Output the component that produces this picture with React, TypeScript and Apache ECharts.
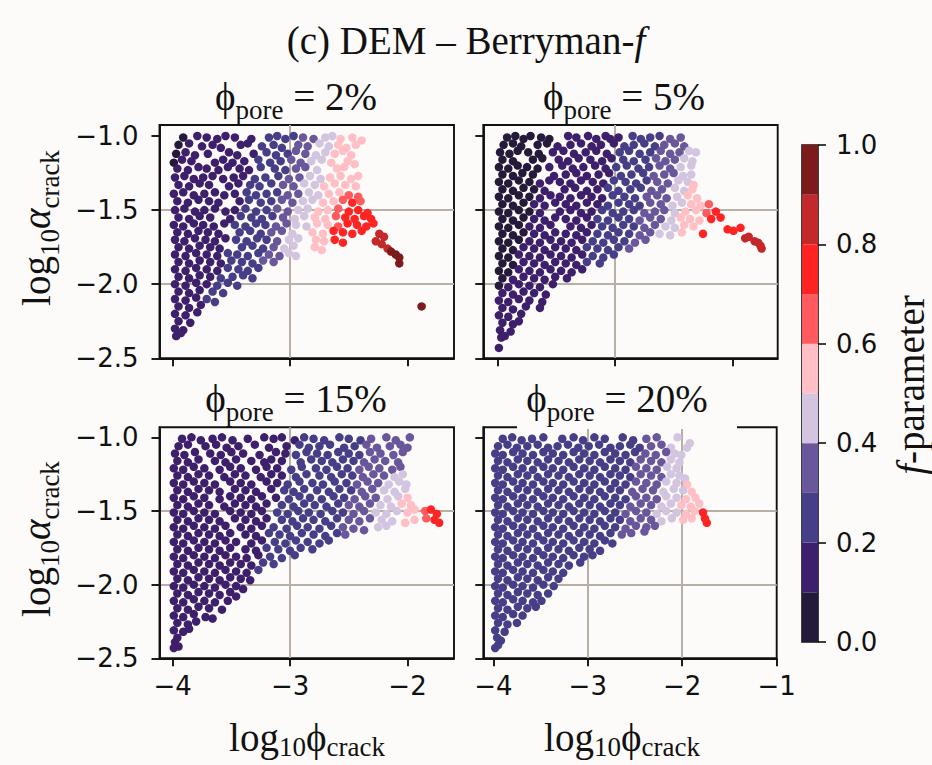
import React, { useEffect, useRef } from "react";
import * as echarts from "echarts";

// f-parameter colour bins (colorbar)
const fBins = [0, 0.1, 0.2, 0.3, 0.4, 0.5, 0.6, 0.7, 0.8, 0.9, 1.0];
const fColors = ["#261a3b", "#3d1f6c", "#463f88", "#6a569b", "#d3c4e0", "#ffbfc4", "#ff5a5d", "#ff2424", "#c3292a", "#7c1a1c"];
const cbarTicks = [0, 0.2, 0.4, 0.6, 0.8, 1.0];
const xTicksLeft = [-4, -3, -2];
const xTicksRight = [-4, -3, -2, -1];
const yTicks = [-2.5, -2.0, -1.5, -1.0];
const poreLabels = ["2%", "5%", "15%", "20%"];

// [log10 phi_crack, log10 alpha_crack, f]
const pore2 = [
[-3.91,-1.01,.05],[-3.79,-1.00,.15],[-3.71,-1.01,.15],[-3.62,-1.02,.15],[-3.55,-1.00,.15],[-3.47,-1.01,.15],[-3.33,-1.02,.15],[-3.18,-1.01,.25],[-3.11,-1.00,.25],[-3.04,-1.02,.25],[-2.97,-1.00,.25],[-2.89,-1.01,.35],[-2.80,-1.02,.35],[-2.70,-1.01,.45],[-2.64,-1.00,.45],[-2.57,-1.02,.55],[-2.47,-1.01,.55],[-2.39,-1.03,.55],
[-3.95,-1.06,.05],[-3.86,-1.05,.15],[-3.75,-1.07,.15],[-3.66,-1.06,.15],[-3.59,-1.08,.15],[-3.42,-1.06,.15],[-3.36,-1.05,.15],[-3.24,-1.07,.25],[-3.14,-1.06,.25],[-3.07,-1.08,.25],[-2.93,-1.06,.35],[-2.85,-1.07,.35],[-2.75,-1.05,.45],[-2.67,-1.07,.45],[-2.59,-1.06,.55],[-2.52,-1.08,.55],[-2.44,-1.06,.55],
[-3.97,-1.12,.05],[-3.89,-1.11,.15],[-3.81,-1.13,.15],[-3.70,-1.12,.15],[-3.52,-1.11,.15],[-3.45,-1.13,.15],[-3.31,-1.12,.15],[-3.20,-1.11,.25],[-3.12,-1.13,.25],[-3.02,-1.12,.25],[-2.95,-1.10,.35],[-2.87,-1.12,.35],[-2.78,-1.13,.45],[-2.70,-1.11,.45],[-2.62,-1.12,.55],[-2.55,-1.10,.55],[-2.48,-1.13,.55],
[-3.99,-1.18,.05],[-3.92,-1.16,.15],[-3.84,-1.17,.15],[-3.64,-1.18,.15],[-3.57,-1.16,.15],[-3.49,-1.18,.15],[-3.39,-1.17,.15],[-3.27,-1.16,.25],[-3.17,-1.18,.25],[-3.08,-1.17,.25],[-2.99,-1.16,.35],[-2.91,-1.18,.35],[-2.82,-1.17,.45],[-2.73,-1.16,.45],[-2.65,-1.18,.55],[-2.51,-1.17,.55],[-2.45,-1.19,.55],
[-3.96,-1.22,.15],[-3.87,-1.23,.15],[-3.78,-1.21,.15],[-3.71,-1.22,.15],[-3.61,-1.23,.15],[-3.53,-1.21,.15],[-3.43,-1.22,.15],[-3.35,-1.23,.15],[-3.25,-1.21,.25],[-3.13,-1.22,.25],[-3.04,-1.23,.25],[-2.95,-1.22,.35],[-2.87,-1.21,.35],[-2.77,-1.23,.45],[-2.60,-1.22,.55],[-2.54,-1.21,.55],
[-3.98,-1.28,.15],[-3.90,-1.27,.15],[-3.82,-1.29,.15],[-3.74,-1.28,.15],[-3.66,-1.27,.15],[-3.57,-1.29,.15],[-3.48,-1.28,.15],[-3.40,-1.27,.15],[-3.30,-1.29,.25],[-3.21,-1.28,.25],[-3.10,-1.27,.25],[-3.01,-1.29,.35],[-2.92,-1.28,.35],[-2.83,-1.27,.45],[-2.74,-1.29,.45],[-2.66,-1.28,.55],[-2.57,-1.27,.55],[-2.48,-1.29,.55],[-2.42,-1.27,.55],
[-3.95,-1.33,.15],[-3.86,-1.34,.15],[-3.77,-1.32,.15],[-3.69,-1.33,.15],[-3.52,-1.34,.15],[-3.44,-1.32,.15],[-3.34,-1.33,.25],[-3.26,-1.34,.25],[-3.16,-1.32,.25],[-3.06,-1.33,.35],[-2.97,-1.34,.35],[-2.88,-1.32,.45],[-2.79,-1.33,.45],[-2.71,-1.34,.55],[-2.62,-1.32,.55],[-2.53,-1.33,.55],[-2.44,-1.34,.55],
[-3.99,-1.39,.15],[-3.91,-1.38,.15],[-3.82,-1.40,.15],[-3.73,-1.39,.15],[-3.64,-1.38,.15],[-3.56,-1.40,.15],[-3.47,-1.39,.15],[-3.37,-1.38,.25],[-3.29,-1.40,.25],[-3.20,-1.39,.25],[-3.11,-1.38,.25],[-3.02,-1.40,.35],[-2.93,-1.39,.35],[-2.84,-1.38,.45],[-2.76,-1.40,.45],[-2.67,-1.39,.55],[-2.58,-1.38,.55],[-2.50,-1.40,.65],[-2.42,-1.41,.65],
[-3.96,-1.44,.15],[-3.87,-1.45,.15],[-3.78,-1.43,.15],[-3.69,-1.44,.15],[-3.61,-1.45,.15],[-3.43,-1.44,.15],[-3.35,-1.43,.25],[-3.25,-1.45,.25],[-3.16,-1.44,.25],[-3.07,-1.43,.35],[-2.98,-1.45,.35],[-2.89,-1.44,.45],[-2.81,-1.43,.45],[-2.72,-1.45,.55],[-2.63,-1.44,.55],[-2.55,-1.43,.65],[-2.47,-1.45,.75],[-2.40,-1.44,.65],
[-3.98,-1.50,.15],[-3.90,-1.49,.15],[-3.81,-1.51,.15],[-3.73,-1.50,.15],[-3.64,-1.49,.15],[-3.55,-1.51,.15],[-3.47,-1.50,.15],[-3.38,-1.49,.25],[-3.29,-1.51,.25],[-3.20,-1.50,.25],[-3.11,-1.49,.35],[-3.02,-1.51,.35],[-2.93,-1.50,.45],[-2.85,-1.49,.45],[-2.76,-1.51,.55],[-2.68,-1.50,.55],[-2.59,-1.49,.65],[-2.50,-1.51,.75],[-2.42,-1.50,.75],[-2.34,-1.52,.75],
[-3.95,-1.55,.15],[-3.86,-1.56,.15],[-3.77,-1.54,.15],[-3.68,-1.55,.15],[-3.51,-1.56,.15],[-3.42,-1.54,.25],[-3.33,-1.55,.25],[-3.24,-1.56,.25],[-3.15,-1.54,.25],[-3.06,-1.55,.35],[-2.96,-1.56,.45],[-2.88,-1.54,.45],[-2.79,-1.55,.55],[-2.70,-1.56,.55],[-2.61,-1.54,.65],[-2.53,-1.55,.75],[-2.45,-1.56,.75],[-2.37,-1.54,.75],[-2.31,-1.56,.75],
[-3.99,-1.60,.15],[-3.91,-1.61,.15],[-3.82,-1.59,.15],[-3.74,-1.60,.15],[-3.65,-1.61,.15],[-3.56,-1.59,.15],[-3.47,-1.60,.25],[-3.38,-1.61,.25],[-3.29,-1.59,.25],[-3.21,-1.60,.25],[-3.12,-1.61,.35],[-3.03,-1.59,.35],[-2.95,-1.60,.45],[-2.86,-1.61,.45],[-2.77,-1.59,.55],[-2.68,-1.60,.55],[-2.59,-1.61,.65],[-2.51,-1.59,.75],[-2.43,-1.60,.75],[-2.35,-1.61,.75],[-2.29,-1.59,.75],
[-3.96,-1.65,.15],[-3.87,-1.66,.15],[-3.78,-1.64,.15],[-3.70,-1.65,.15],[-3.61,-1.66,.15],[-3.43,-1.65,.25],[-3.34,-1.64,.25],[-3.25,-1.66,.25],[-3.16,-1.65,.35],[-3.07,-1.64,.35],[-2.98,-1.66,.45],[-2.81,-1.65,.55],[-2.72,-1.66,.55],[-2.63,-1.64,.75],[-2.55,-1.65,.75],[-2.47,-1.66,.75],[-2.39,-1.64,.75],[-2.24,-1.66,.85],[-2.20,-1.68,.85],
[-3.98,-1.70,.15],[-3.90,-1.71,.15],[-3.81,-1.69,.15],[-3.72,-1.70,.15],[-3.64,-1.71,.15],[-3.55,-1.69,.15],[-3.46,-1.70,.25],[-3.37,-1.71,.25],[-3.28,-1.69,.25],[-3.20,-1.70,.25],[-3.11,-1.71,.35],[-3.01,-1.70,.45],[-2.93,-1.69,.45],[-2.78,-1.70,.55],[-2.71,-1.71,.55],[-2.62,-1.70,.75],[-2.55,-1.72,.75],[-2.27,-1.71,.85],[-2.22,-1.73,.85],
[-3.95,-1.75,.15],[-3.86,-1.76,.15],[-3.77,-1.74,.15],[-3.68,-1.75,.15],[-3.60,-1.76,.15],[-3.41,-1.75,.25],[-3.32,-1.74,.25],[-3.23,-1.76,.25],[-3.14,-1.75,.35],[-3.05,-1.76,.45],[-2.97,-1.74,.45],[-2.79,-1.75,.55],[-2.73,-1.77,.55],[-2.17,-1.76,.85],[-2.14,-1.78,.95],
[-3.98,-1.80,.15],[-3.89,-1.81,.15],[-3.80,-1.79,.15],[-3.71,-1.80,.15],[-3.62,-1.81,.15],[-3.53,-1.79,.25],[-3.45,-1.80,.25],[-3.36,-1.81,.25],[-3.27,-1.79,.25],[-3.18,-1.80,.35],[-3.09,-1.81,.35],[-3.01,-1.79,.45],[-2.95,-1.81,.45],[-2.10,-1.80,.95],[-2.07,-1.82,.95],
[-3.95,-1.85,.15],[-3.86,-1.86,.15],[-3.77,-1.84,.15],[-3.68,-1.85,.15],[-3.59,-1.86,.15],[-3.50,-1.84,.25],[-3.41,-1.85,.25],[-3.32,-1.86,.25],[-3.23,-1.84,.35],[-3.14,-1.85,.35],[-2.07,-1.86,.95],
[-3.98,-1.90,.15],[-3.89,-1.91,.15],[-3.80,-1.89,.15],[-3.71,-1.90,.15],[-3.62,-1.91,.15],[-3.53,-1.89,.25],[-3.44,-1.90,.25],[-3.36,-1.91,.25],[-3.27,-1.89,.25],
[-3.95,-1.95,.15],[-3.86,-1.96,.15],[-3.77,-1.94,.15],[-3.68,-1.95,.15],[-3.59,-1.96,.25],[-3.49,-1.95,.25],[-3.40,-1.94,.25],[-3.32,-1.96,.25],
[-3.98,-2.00,.15],[-3.89,-2.01,.15],[-3.80,-1.99,.15],[-3.71,-2.00,.15],[-3.62,-2.01,.25],[-3.53,-1.99,.25],[-3.45,-2.01,.25],
[-3.95,-2.05,.15],[-3.86,-2.06,.15],[-3.77,-2.04,.15],[-3.66,-2.05,.25],[-3.57,-2.06,.25],
[-3.98,-2.10,.15],[-3.89,-2.11,.15],[-3.80,-2.09,.15],[-3.71,-2.10,.25],[-3.64,-2.12,.25],
[-3.95,-2.15,.15],[-3.86,-2.16,.15],[-3.76,-2.14,.15],[-1.88,-2.15,.95],
[-3.98,-2.20,.15],[-3.89,-2.21,.15],[-3.79,-2.19,.15],
[-3.95,-2.25,.15],[-3.85,-2.26,.15],
[-3.98,-2.30,.15],[-3.91,-2.31,.15],
[-3.97,-2.35,.15],[-3.93,-2.33,.15],
];

const pore5 = [
[-3.92,-1.01,.05],[-3.85,-1.00,.05],[-3.78,-1.02,.05],[-3.72,-1.00,.05],[-3.63,-1.01,.05],[-3.56,-1.02,.05],[-3.40,-1.00,.15],[-3.33,-1.01,.15],[-3.23,-1.00,.15],[-3.16,-1.02,.15],[-3.08,-1.00,.15],[-3.04,-1.02,.15],[-2.97,-1.01,.15],[-2.85,-1.00,.25],[-2.78,-1.02,.25],[-2.70,-1.01,.25],[-2.62,-1.00,.25],[-2.53,-1.02,.35],[-2.44,-1.01,.35],
[-3.95,-1.06,.05],[-3.87,-1.05,.05],[-3.80,-1.07,.05],[-3.66,-1.06,.05],[-3.58,-1.05,.05],[-3.49,-1.07,.15],[-3.38,-1.06,.15],[-3.29,-1.05,.15],[-3.20,-1.07,.15],[-3.12,-1.06,.15],[-3.01,-1.05,.15],[-2.92,-1.07,.25],[-2.84,-1.06,.25],[-2.75,-1.05,.25],[-2.66,-1.07,.25],[-2.58,-1.06,.35],[-2.49,-1.05,.35],[-2.41,-1.07,.35],
[-3.98,-1.11,.05],[-3.90,-1.12,.05],[-3.83,-1.10,.05],[-3.74,-1.11,.05],[-3.65,-1.12,.05],[-3.53,-1.11,.15],[-3.44,-1.10,.15],[-3.35,-1.12,.15],[-3.25,-1.11,.15],[-3.16,-1.10,.15],[-3.07,-1.12,.15],[-2.96,-1.11,.25],[-2.88,-1.10,.25],[-2.79,-1.12,.25],[-2.70,-1.11,.25],[-2.61,-1.10,.35],[-2.53,-1.12,.35],[-2.45,-1.11,.35],[-2.37,-1.10,.45],[-2.31,-1.11,.45],
[-3.96,-1.16,.05],[-3.87,-1.17,.05],[-3.70,-1.16,.05],[-3.62,-1.15,.05],[-3.48,-1.16,.15],[-3.40,-1.17,.15],[-3.31,-1.15,.15],[-3.21,-1.16,.15],[-3.11,-1.17,.15],[-3.03,-1.15,.15],[-2.93,-1.16,.25],[-2.84,-1.17,.25],[-2.74,-1.16,.25],[-2.65,-1.15,.35],[-2.57,-1.17,.35],[-2.49,-1.16,.35],[-2.41,-1.15,.45],[-2.34,-1.17,.45],
[-3.99,-1.21,.05],[-3.91,-1.22,.05],[-3.83,-1.20,.05],[-3.75,-1.21,.05],[-3.66,-1.22,.05],[-3.56,-1.21,.15],[-3.45,-1.20,.15],[-3.36,-1.22,.15],[-3.27,-1.21,.15],[-3.17,-1.20,.15],[-3.08,-1.22,.15],[-2.99,-1.21,.25],[-2.90,-1.20,.25],[-2.80,-1.22,.25],[-2.71,-1.21,.25],[-2.62,-1.20,.35],[-2.53,-1.22,.35],[-2.44,-1.21,.45],[-2.35,-1.20,.45],
[-3.96,-1.26,.05],[-3.87,-1.27,.05],[-3.79,-1.25,.05],[-3.70,-1.26,.05],[-3.52,-1.27,.15],[-3.42,-1.26,.15],[-3.33,-1.25,.15],[-3.24,-1.27,.15],[-3.14,-1.26,.15],[-3.05,-1.25,.15],[-2.95,-1.27,.25],[-2.86,-1.26,.25],[-2.76,-1.25,.25],[-2.67,-1.27,.35],[-2.58,-1.26,.35],[-2.50,-1.25,.35],[-2.42,-1.27,.45],[-2.35,-1.26,.45],
[-3.99,-1.31,.05],[-3.91,-1.32,.05],[-3.82,-1.30,.05],[-3.73,-1.31,.05],[-3.64,-1.32,.15],[-3.56,-1.30,.15],[-3.47,-1.31,.15],[-3.38,-1.32,.15],[-3.29,-1.30,.15],[-3.19,-1.31,.15],[-3.10,-1.32,.15],[-3.01,-1.30,.25],[-2.91,-1.31,.25],[-2.82,-1.32,.25],[-2.73,-1.30,.25],[-2.64,-1.31,.35],[-2.55,-1.32,.35],[-2.46,-1.30,.45],[-2.38,-1.31,.45],[-2.33,-1.33,.55],
[-3.96,-1.36,.05],[-3.87,-1.37,.05],[-3.78,-1.35,.05],[-3.69,-1.36,.05],[-3.60,-1.37,.15],[-3.43,-1.36,.15],[-3.34,-1.35,.15],[-3.24,-1.37,.15],[-3.15,-1.36,.15],[-3.06,-1.35,.25],[-2.97,-1.37,.25],[-2.87,-1.36,.25],[-2.78,-1.35,.25],[-2.69,-1.37,.35],[-2.60,-1.36,.35],[-2.49,-1.35,.45],[-2.41,-1.37,.45],[-2.34,-1.36,.55],
[-3.99,-1.41,.05],[-3.91,-1.42,.05],[-3.82,-1.40,.05],[-3.73,-1.41,.05],[-3.64,-1.42,.15],[-3.55,-1.40,.15],[-3.47,-1.41,.15],[-3.38,-1.42,.15],[-3.29,-1.40,.15],[-3.20,-1.41,.15],[-3.11,-1.42,.15],[-3.02,-1.40,.25],[-2.92,-1.41,.25],[-2.83,-1.42,.25],[-2.73,-1.41,.35],[-2.64,-1.40,.35],[-2.56,-1.42,.35],[-2.47,-1.41,.45],[-2.38,-1.40,.55],[-2.30,-1.42,.55],
[-3.96,-1.46,.05],[-3.87,-1.47,.05],[-3.78,-1.45,.05],[-3.69,-1.46,.15],[-3.60,-1.47,.15],[-3.51,-1.45,.15],[-3.42,-1.46,.15],[-3.33,-1.47,.15],[-3.24,-1.45,.15],[-3.15,-1.46,.15],[-3.06,-1.47,.25],[-2.97,-1.45,.25],[-2.88,-1.46,.25],[-2.79,-1.47,.25],[-2.70,-1.45,.35],[-2.61,-1.46,.35],[-2.51,-1.47,.45],[-2.43,-1.45,.45],[-2.35,-1.46,.55],[-2.27,-1.47,.55],[-2.20,-1.46,.65],
[-3.99,-1.51,.05],[-3.91,-1.52,.05],[-3.82,-1.50,.05],[-3.73,-1.51,.05],[-3.64,-1.52,.15],[-3.47,-1.51,.15],[-3.38,-1.50,.15],[-3.29,-1.52,.15],[-3.20,-1.51,.15],[-3.11,-1.50,.25],[-3.02,-1.52,.25],[-2.93,-1.51,.25],[-2.84,-1.50,.25],[-2.75,-1.52,.35],[-2.66,-1.51,.35],[-2.58,-1.50,.35],[-2.49,-1.52,.45],[-2.40,-1.51,.55],[-2.31,-1.50,.55],[-2.22,-1.52,.65],[-2.14,-1.51,.75],
[-3.96,-1.56,.05],[-3.87,-1.57,.05],[-3.78,-1.55,.05],[-3.69,-1.56,.15],[-3.60,-1.57,.15],[-3.51,-1.55,.15],[-3.42,-1.56,.15],[-3.33,-1.57,.15],[-3.24,-1.55,.15],[-3.15,-1.56,.25],[-3.06,-1.57,.25],[-2.97,-1.55,.25],[-2.88,-1.56,.25],[-2.79,-1.57,.35],[-2.70,-1.55,.35],[-2.61,-1.56,.35],[-2.52,-1.57,.45],[-2.44,-1.55,.55],[-2.36,-1.56,.55],[-2.28,-1.57,.55],[-2.18,-1.56,.75],[-2.10,-1.55,.75],
[-3.99,-1.61,.05],[-3.91,-1.62,.05],[-3.82,-1.60,.05],[-3.73,-1.61,.15],[-3.64,-1.62,.15],[-3.55,-1.60,.15],[-3.38,-1.61,.15],[-3.29,-1.62,.15],[-3.20,-1.60,.15],[-3.11,-1.61,.25],[-3.02,-1.62,.25],[-2.93,-1.60,.25],[-2.84,-1.61,.25],[-2.75,-1.62,.35],[-2.66,-1.60,.35],[-2.57,-1.61,.45],[-2.49,-1.62,.45],[-2.41,-1.60,.55],[-2.33,-1.61,.55],[-2.04,-1.63,.75],[-1.99,-1.64,.75],[-1.93,-1.62,.75],
[-3.96,-1.66,.05],[-3.87,-1.67,.05],[-3.78,-1.65,.05],[-3.69,-1.66,.15],[-3.60,-1.67,.15],[-3.51,-1.65,.15],[-3.42,-1.66,.15],[-3.33,-1.67,.15],[-3.24,-1.65,.15],[-3.15,-1.66,.25],[-3.06,-1.67,.25],[-2.97,-1.65,.25],[-2.88,-1.66,.25],[-2.79,-1.67,.35],[-2.70,-1.65,.35],[-2.62,-1.66,.45],[-2.53,-1.67,.45],[-2.43,-1.65,.55],[-2.25,-1.66,.75],[-1.89,-1.69,.85],[-1.86,-1.68,.85],
[-3.99,-1.71,.05],[-3.91,-1.72,.05],[-3.82,-1.70,.05],[-3.73,-1.71,.15],[-3.64,-1.72,.15],[-3.55,-1.70,.15],[-3.46,-1.71,.15],[-3.37,-1.72,.15],[-3.28,-1.70,.15],[-3.19,-1.71,.25],[-3.10,-1.72,.25],[-3.01,-1.70,.25],[-2.92,-1.71,.25],[-2.83,-1.72,.35],[-2.74,-1.70,.35],[-1.81,-1.71,.85],[-1.78,-1.72,.85],
[-3.96,-1.76,.05],[-3.87,-1.77,.05],[-3.78,-1.75,.15],[-3.69,-1.76,.15],[-3.60,-1.77,.15],[-3.51,-1.75,.15],[-3.42,-1.76,.15],[-3.33,-1.77,.15],[-3.24,-1.75,.25],[-3.15,-1.76,.25],[-3.06,-1.77,.25],[-2.97,-1.75,.25],[-2.88,-1.76,.35],[-1.76,-1.74,.85],[-1.75,-1.76,.85],
[-3.99,-1.81,.05],[-3.91,-1.82,.05],[-3.82,-1.80,.15],[-3.73,-1.81,.15],[-3.64,-1.82,.15],[-3.55,-1.80,.15],[-3.46,-1.81,.15],[-3.37,-1.82,.15],[-3.28,-1.80,.15],[-3.19,-1.81,.25],[-3.10,-1.82,.25],[-3.01,-1.80,.25],
[-3.96,-1.86,.05],[-3.87,-1.87,.05],[-3.78,-1.85,.15],[-3.69,-1.86,.15],[-3.60,-1.87,.15],[-3.51,-1.85,.15],[-3.42,-1.86,.15],[-3.33,-1.87,.15],[-3.24,-1.85,.25],[-3.13,-1.86,.25],
[-3.99,-1.91,.05],[-3.91,-1.92,.05],[-3.82,-1.90,.15],[-3.73,-1.91,.15],[-3.64,-1.92,.15],[-3.55,-1.90,.15],[-3.46,-1.91,.15],[-3.37,-1.92,.15],[-3.28,-1.90,.15],
[-3.96,-1.96,.05],[-3.87,-1.97,.15],[-3.78,-1.95,.15],[-3.69,-1.96,.15],[-3.60,-1.97,.15],[-3.51,-1.95,.15],[-3.41,-1.96,.15],
[-3.99,-2.01,.05],[-3.91,-2.02,.15],[-3.82,-2.00,.15],[-3.73,-2.01,.15],[-3.64,-2.02,.15],[-3.53,-2.00,.15],
[-3.96,-2.06,.15],[-3.87,-2.07,.15],[-3.78,-2.05,.15],[-3.69,-2.06,.15],[-3.59,-2.07,.15],
[-3.99,-2.11,.15],[-3.91,-2.12,.15],[-3.82,-2.10,.15],[-3.73,-2.11,.15],[-3.62,-2.12,.15],
[-3.96,-2.16,.15],[-3.87,-2.17,.15],[-3.76,-2.15,.15],[-3.64,-2.16,.15],
[-3.99,-2.21,.15],[-3.91,-2.22,.15],[-3.80,-2.20,.15],
[-3.96,-2.26,.15],[-3.87,-2.27,.15],[-3.82,-2.25,.15],
[-3.98,-2.31,.15],[-3.89,-2.32,.15],
[-3.97,-2.36,.15],[-3.94,-2.35,.15],
[-3.99,-2.43,.15],
];

const pore15 = [
[-3.92,-1.01,.15],[-3.84,-1.00,.15],[-3.76,-1.02,.15],[-3.66,-1.01,.15],[-3.58,-1.00,.15],[-3.49,-1.02,.15],[-3.36,-1.01,.15],[-3.22,-1.00,.15],[-3.14,-1.01,.15],[-3.07,-1.00,.15],[-2.96,-1.02,.15],[-2.88,-1.00,.25],[-2.80,-1.01,.25],[-2.71,-1.02,.25],[-2.58,-1.00,.25],[-2.50,-1.01,.25],[-2.40,-1.02,.25],[-2.31,-1.01,.35],[-2.18,-1.00,.35],[-2.10,-1.02,.35],[-1.98,-1.00,.35],
[-3.95,-1.06,.15],[-3.87,-1.05,.15],[-3.72,-1.06,.15],[-3.63,-1.05,.15],[-3.54,-1.07,.15],[-3.44,-1.06,.15],[-3.30,-1.05,.15],[-3.18,-1.07,.15],[-3.03,-1.06,.15],[-2.92,-1.05,.25],[-2.84,-1.07,.25],[-2.75,-1.06,.25],[-2.66,-1.05,.25],[-2.54,-1.07,.25],[-2.45,-1.06,.25],[-2.35,-1.05,.35],[-2.26,-1.07,.35],[-2.15,-1.06,.35],[-2.06,-1.05,.35],[-2.00,-1.07,.35],
[-3.98,-1.11,.15],[-3.90,-1.12,.15],[-3.81,-1.10,.15],[-3.68,-1.11,.15],[-3.59,-1.12,.15],[-3.50,-1.10,.15],[-3.40,-1.11,.15],[-3.26,-1.12,.15],[-3.12,-1.10,.15],[-3.04,-1.11,.15],[-2.95,-1.12,.25],[-2.86,-1.10,.25],[-2.77,-1.11,.25],[-2.68,-1.12,.25],[-2.59,-1.10,.25],[-2.50,-1.11,.25],[-2.41,-1.12,.25],[-2.32,-1.10,.35],[-2.23,-1.11,.35],[-2.12,-1.12,.35],[-2.04,-1.10,.35],
[-3.96,-1.16,.15],[-3.87,-1.17,.15],[-3.78,-1.15,.15],[-3.64,-1.16,.15],[-3.55,-1.17,.15],[-3.46,-1.15,.15],[-3.33,-1.16,.15],[-3.22,-1.17,.15],[-3.16,-1.15,.15],[-3.07,-1.16,.15],[-2.91,-1.17,.25],[-2.82,-1.15,.25],[-2.73,-1.16,.25],[-2.64,-1.17,.25],[-2.55,-1.15,.25],[-2.46,-1.16,.25],[-2.37,-1.17,.35],[-2.28,-1.15,.35],[-2.19,-1.16,.35],[-2.08,-1.17,.35],
[-3.99,-1.21,.15],[-3.91,-1.22,.15],[-3.82,-1.20,.15],[-3.73,-1.21,.15],[-3.60,-1.22,.15],[-3.51,-1.20,.15],[-3.42,-1.21,.15],[-3.29,-1.22,.15],[-3.20,-1.20,.15],[-3.11,-1.21,.15],[-2.99,-1.22,.25],[-2.90,-1.20,.25],[-2.78,-1.21,.25],[-2.69,-1.22,.25],[-2.60,-1.20,.25],[-2.51,-1.21,.25],[-2.41,-1.22,.35],[-2.33,-1.20,.35],[-2.24,-1.21,.35],[-2.13,-1.22,.35],[-2.06,-1.20,.35],
[-3.96,-1.26,.15],[-3.87,-1.27,.15],[-3.78,-1.25,.15],[-3.69,-1.26,.15],[-3.56,-1.27,.15],[-3.47,-1.25,.15],[-3.38,-1.26,.15],[-3.25,-1.27,.15],[-3.16,-1.25,.15],[-3.07,-1.26,.15],[-2.95,-1.27,.25],[-2.86,-1.25,.25],[-2.75,-1.26,.25],[-2.65,-1.27,.25],[-2.56,-1.25,.25],[-2.47,-1.26,.25],[-2.38,-1.27,.35],[-2.29,-1.25,.35],[-2.20,-1.26,.35],[-2.11,-1.27,.45],[-2.04,-1.25,.45],
[-3.99,-1.31,.15],[-3.91,-1.32,.15],[-3.82,-1.30,.15],[-3.73,-1.31,.15],[-3.64,-1.32,.15],[-3.51,-1.30,.15],[-3.42,-1.31,.15],[-3.33,-1.32,.15],[-3.20,-1.30,.15],[-3.11,-1.31,.15],[-3.02,-1.32,.25],[-2.92,-1.30,.25],[-2.81,-1.31,.25],[-2.72,-1.32,.25],[-2.62,-1.30,.25],[-2.52,-1.31,.25],[-2.43,-1.32,.35],[-2.34,-1.30,.35],[-2.25,-1.31,.35],[-2.16,-1.32,.45],[-2.07,-1.30,.45],[-2.01,-1.32,.45],
[-3.96,-1.36,.15],[-3.87,-1.37,.15],[-3.78,-1.35,.15],[-3.69,-1.36,.15],[-3.60,-1.37,.15],[-3.47,-1.35,.15],[-3.38,-1.36,.15],[-3.29,-1.37,.15],[-3.16,-1.35,.15],[-3.05,-1.36,.25],[-2.97,-1.37,.25],[-2.88,-1.35,.25],[-2.77,-1.36,.25],[-2.67,-1.37,.25],[-2.58,-1.35,.25],[-2.48,-1.36,.25],[-2.39,-1.37,.35],[-2.30,-1.35,.35],[-2.20,-1.36,.45],[-2.11,-1.37,.45],[-2.02,-1.35,.45],
[-3.99,-1.41,.15],[-3.91,-1.42,.15],[-3.82,-1.40,.15],[-3.73,-1.41,.15],[-3.60,-1.42,.15],[-3.51,-1.40,.15],[-3.42,-1.41,.15],[-3.33,-1.42,.15],[-3.24,-1.40,.15],[-3.12,-1.41,.15],[-3.01,-1.42,.25],[-2.92,-1.40,.25],[-2.83,-1.41,.25],[-2.73,-1.42,.25],[-2.63,-1.40,.25],[-2.54,-1.41,.25],[-2.45,-1.42,.35],[-2.36,-1.40,.35],[-2.27,-1.41,.35],[-2.17,-1.42,.45],[-2.08,-1.40,.45],[-2.00,-1.41,.55],
[-3.96,-1.46,.15],[-3.87,-1.47,.15],[-3.78,-1.45,.15],[-3.69,-1.46,.15],[-3.56,-1.47,.15],[-3.47,-1.45,.15],[-3.38,-1.46,.15],[-3.29,-1.47,.15],[-3.20,-1.45,.15],[-3.07,-1.46,.25],[-2.97,-1.47,.25],[-2.88,-1.45,.25],[-2.79,-1.46,.25],[-2.69,-1.47,.25],[-2.59,-1.45,.25],[-2.50,-1.46,.35],[-2.41,-1.47,.35],[-2.32,-1.45,.35],[-2.23,-1.46,.45],[-2.14,-1.47,.45],[-2.05,-1.45,.55],[-1.97,-1.46,.55],
[-3.99,-1.51,.15],[-3.91,-1.52,.15],[-3.82,-1.50,.15],[-3.73,-1.51,.15],[-3.64,-1.52,.15],[-3.51,-1.50,.15],[-3.42,-1.51,.15],[-3.33,-1.52,.15],[-3.24,-1.50,.15],[-3.11,-1.51,.25],[-3.02,-1.52,.25],[-2.93,-1.50,.25],[-2.84,-1.51,.25],[-2.74,-1.52,.25],[-2.64,-1.50,.25],[-2.55,-1.51,.25],[-2.46,-1.52,.35],[-2.37,-1.50,.35],[-2.27,-1.51,.45],[-2.18,-1.52,.45],[-2.09,-1.50,.45],[-2.00,-1.51,.55],[-1.94,-1.49,.55],[-1.85,-1.50,.65],[-1.80,-1.49,.75],[-1.75,-1.52,.75],
[-3.96,-1.56,.15],[-3.87,-1.57,.15],[-3.78,-1.55,.15],[-3.69,-1.56,.15],[-3.60,-1.57,.15],[-3.47,-1.55,.15],[-3.38,-1.56,.15],[-3.29,-1.57,.15],[-3.20,-1.55,.15],[-3.07,-1.56,.25],[-2.98,-1.57,.25],[-2.89,-1.55,.25],[-2.80,-1.56,.25],[-2.70,-1.57,.25],[-2.60,-1.55,.25],[-2.50,-1.56,.35],[-2.41,-1.57,.35],[-2.32,-1.55,.35],[-2.22,-1.56,.45],[-2.13,-1.57,.45],[-2.02,-1.58,.55],[-1.94,-1.56,.55],[-1.84,-1.55,.65],[-1.77,-1.56,.75],[-1.73,-1.58,.75],
[-3.99,-1.61,.15],[-3.91,-1.62,.15],[-3.82,-1.60,.15],[-3.73,-1.61,.15],[-3.64,-1.62,.15],[-3.55,-1.60,.15],[-3.42,-1.61,.15],[-3.33,-1.62,.15],[-3.24,-1.60,.15],[-3.14,-1.61,.25],[-3.03,-1.62,.25],[-2.94,-1.60,.25],[-2.85,-1.61,.25],[-2.75,-1.62,.25],[-2.65,-1.60,.25],[-2.55,-1.61,.35],[-2.46,-1.62,.35],[-2.37,-1.63,.35],[-2.25,-1.61,.45],[-2.18,-1.60,.45],
[-3.96,-1.66,.15],[-3.87,-1.67,.15],[-3.78,-1.65,.15],[-3.69,-1.66,.15],[-3.60,-1.67,.15],[-3.51,-1.65,.15],[-3.38,-1.66,.15],[-3.29,-1.67,.15],[-3.18,-1.65,.25],[-3.09,-1.66,.25],[-3.00,-1.67,.25],[-2.90,-1.65,.25],[-2.80,-1.66,.25],[-2.70,-1.67,.25],[-2.60,-1.65,.25],[-2.53,-1.66,.35],
[-3.99,-1.71,.15],[-3.91,-1.72,.15],[-3.82,-1.70,.15],[-3.73,-1.71,.15],[-3.64,-1.72,.15],[-3.55,-1.70,.15],[-3.46,-1.71,.15],[-3.33,-1.72,.15],[-3.24,-1.70,.15],[-3.13,-1.71,.25],[-3.04,-1.72,.25],[-2.95,-1.70,.25],[-2.85,-1.71,.25],[-2.75,-1.72,.25],[-2.67,-1.70,.25],
[-3.96,-1.76,.15],[-3.87,-1.77,.15],[-3.78,-1.75,.15],[-3.69,-1.76,.15],[-3.60,-1.77,.15],[-3.51,-1.75,.15],[-3.38,-1.76,.15],[-3.29,-1.77,.15],[-3.20,-1.75,.25],[-3.10,-1.76,.25],[-3.00,-1.77,.25],[-2.91,-1.75,.25],[-2.81,-1.76,.25],
[-3.99,-1.81,.15],[-3.91,-1.82,.15],[-3.82,-1.80,.15],[-3.73,-1.81,.15],[-3.64,-1.82,.15],[-3.55,-1.80,.15],[-3.46,-1.81,.15],[-3.37,-1.82,.15],[-3.27,-1.80,.15],[-3.17,-1.81,.25],[-3.07,-1.82,.25],[-2.96,-1.80,.25],
[-3.96,-1.86,.15],[-3.87,-1.87,.15],[-3.78,-1.85,.15],[-3.69,-1.86,.15],[-3.60,-1.87,.15],[-3.51,-1.85,.15],[-3.42,-1.86,.15],[-3.33,-1.87,.15],[-3.23,-1.85,.25],[-3.14,-1.86,.25],
[-3.99,-1.91,.15],[-3.91,-1.92,.15],[-3.82,-1.90,.15],[-3.73,-1.91,.15],[-3.64,-1.92,.15],[-3.55,-1.90,.15],[-3.46,-1.91,.15],[-3.37,-1.92,.15],[-3.27,-1.90,.25],
[-3.96,-1.96,.15],[-3.87,-1.97,.15],[-3.78,-1.95,.15],[-3.69,-1.96,.15],[-3.60,-1.97,.15],[-3.51,-1.95,.15],[-3.42,-1.96,.15],[-3.34,-1.97,.15],
[-3.99,-2.01,.15],[-3.91,-2.02,.15],[-3.82,-2.00,.15],[-3.73,-2.01,.15],[-3.64,-2.02,.15],[-3.55,-2.00,.15],[-3.46,-2.01,.15],[-3.40,-2.03,.15],
[-3.96,-2.06,.15],[-3.87,-2.07,.15],[-3.78,-2.05,.15],[-3.69,-2.06,.15],[-3.60,-2.07,.15],[-3.51,-2.05,.15],[-3.46,-2.08,.15],
[-3.99,-2.11,.15],[-3.91,-2.12,.15],[-3.82,-2.10,.15],[-3.73,-2.11,.15],[-3.64,-2.12,.15],[-3.53,-2.11,.15],
[-3.96,-2.16,.15],[-3.87,-2.17,.15],[-3.78,-2.15,.15],[-3.69,-2.16,.15],[-3.58,-2.17,.15],
[-3.99,-2.21,.15],[-3.91,-2.22,.15],[-3.82,-2.20,.15],[-3.72,-2.22,.15],[-3.66,-2.23,.15],
[-3.96,-2.26,.15],[-3.87,-2.27,.15],[-3.80,-2.25,.15],
[-3.99,-2.31,.15],[-3.91,-2.32,.15],[-3.86,-2.30,.15],
[-3.96,-2.36,.15],[-3.98,-2.39,.15],
[-3.99,-2.43,.15],[-3.95,-2.42,.15],
];

const pore20 = [
[-3.90,-1.01,.25],[-3.80,-1.00,.25],[-3.70,-1.02,.25],[-3.59,-1.01,.25],[-3.47,-1.00,.25],[-3.27,-1.01,.25],[-3.15,-1.00,.25],[-3.05,-1.02,.25],[-2.93,-1.00,.25],[-2.82,-1.01,.25],[-2.63,-1.00,.25],[-2.52,-1.02,.25],[-2.38,-1.01,.35],[-2.27,-1.00,.35],[-2.05,-1.00,.45],[-1.92,-1.04,.45],
[-3.95,-1.06,.25],[-3.85,-1.05,.25],[-3.75,-1.07,.25],[-3.64,-1.06,.25],[-3.53,-1.05,.25],[-3.42,-1.07,.25],[-3.32,-1.06,.25],[-3.21,-1.05,.25],[-3.10,-1.07,.25],[-2.99,-1.06,.25],[-2.88,-1.05,.25],[-2.76,-1.07,.25],[-2.66,-1.06,.25],[-2.55,-1.05,.25],[-2.45,-1.07,.25],[-2.33,-1.06,.35],[-2.22,-1.05,.35],[-2.12,-1.07,.45],[-1.95,-1.07,.45],
[-3.98,-1.11,.25],[-3.90,-1.12,.25],[-3.79,-1.10,.25],[-3.69,-1.11,.25],[-3.58,-1.12,.25],[-3.47,-1.10,.25],[-3.37,-1.11,.25],[-3.26,-1.12,.25],[-3.15,-1.10,.25],[-3.04,-1.11,.25],[-2.93,-1.12,.25],[-2.82,-1.10,.25],[-2.71,-1.11,.25],[-2.60,-1.12,.25],[-2.50,-1.10,.25],[-2.39,-1.11,.35],[-2.28,-1.12,.35],[-2.17,-1.10,.35],[-2.08,-1.11,.45],[-2.01,-1.12,.45],
[-3.95,-1.16,.25],[-3.85,-1.17,.25],[-3.74,-1.15,.25],[-3.64,-1.16,.25],[-3.53,-1.17,.25],[-3.42,-1.15,.25],[-3.31,-1.16,.25],[-3.20,-1.17,.25],[-3.09,-1.15,.25],[-2.98,-1.16,.25],[-2.87,-1.17,.25],[-2.76,-1.15,.25],[-2.66,-1.16,.25],[-2.55,-1.17,.25],[-2.44,-1.15,.35],[-2.33,-1.16,.35],[-2.22,-1.17,.35],[-2.12,-1.15,.45],[-2.03,-1.17,.45],
[-3.98,-1.21,.25],[-3.90,-1.22,.25],[-3.79,-1.20,.25],[-3.69,-1.21,.25],[-3.58,-1.22,.25],[-3.47,-1.20,.25],[-3.37,-1.21,.25],[-3.26,-1.22,.25],[-3.15,-1.20,.25],[-3.04,-1.21,.25],[-2.93,-1.22,.25],[-2.82,-1.20,.25],[-2.71,-1.21,.25],[-2.60,-1.22,.25],[-2.49,-1.20,.35],[-2.38,-1.21,.35],[-2.27,-1.22,.35],[-2.16,-1.20,.45],[-2.06,-1.21,.45],
[-3.95,-1.26,.25],[-3.85,-1.27,.25],[-3.74,-1.25,.25],[-3.64,-1.26,.25],[-3.53,-1.27,.25],[-3.42,-1.25,.25],[-3.31,-1.26,.25],[-3.20,-1.27,.25],[-3.09,-1.25,.25],[-2.98,-1.26,.25],[-2.87,-1.27,.25],[-2.76,-1.25,.25],[-2.66,-1.26,.25],[-2.55,-1.27,.25],[-2.44,-1.25,.35],[-2.33,-1.26,.35],[-2.22,-1.27,.35],[-2.12,-1.25,.45],[-2.03,-1.26,.45],[-1.97,-1.28,.45],
[-3.98,-1.31,.25],[-3.90,-1.32,.25],[-3.79,-1.30,.25],[-3.69,-1.31,.25],[-3.58,-1.32,.25],[-3.47,-1.30,.25],[-3.37,-1.31,.25],[-3.26,-1.32,.25],[-3.15,-1.30,.25],[-3.04,-1.31,.25],[-2.93,-1.32,.25],[-2.82,-1.30,.25],[-2.71,-1.31,.25],[-2.60,-1.32,.25],[-2.49,-1.30,.35],[-2.38,-1.31,.35],[-2.27,-1.32,.35],[-2.17,-1.30,.45],[-2.06,-1.31,.45],[-1.95,-1.32,.55],
[-3.95,-1.36,.25],[-3.85,-1.37,.25],[-3.74,-1.35,.25],[-3.64,-1.36,.25],[-3.53,-1.37,.25],[-3.42,-1.35,.25],[-3.31,-1.36,.25],[-3.20,-1.37,.25],[-3.09,-1.35,.25],[-2.98,-1.36,.25],[-2.87,-1.37,.25],[-2.76,-1.35,.25],[-2.66,-1.36,.25],[-2.53,-1.37,.35],[-2.42,-1.35,.35],[-2.31,-1.36,.35],[-2.20,-1.37,.45],[-2.09,-1.35,.45],[-1.99,-1.36,.45],[-1.90,-1.37,.55],
[-3.98,-1.41,.25],[-3.90,-1.42,.25],[-3.79,-1.40,.25],[-3.69,-1.41,.25],[-3.58,-1.42,.25],[-3.47,-1.40,.25],[-3.37,-1.41,.25],[-3.26,-1.42,.25],[-3.15,-1.40,.25],[-3.04,-1.41,.25],[-2.93,-1.42,.25],[-2.82,-1.40,.25],[-2.71,-1.41,.25],[-2.60,-1.42,.25],[-2.49,-1.40,.35],[-2.38,-1.41,.35],[-2.27,-1.42,.35],[-2.17,-1.40,.45],[-2.06,-1.41,.45],[-1.96,-1.42,.55],[-1.86,-1.41,.55],
[-3.95,-1.46,.25],[-3.85,-1.47,.25],[-3.74,-1.45,.25],[-3.64,-1.46,.25],[-3.53,-1.47,.25],[-3.42,-1.45,.25],[-3.31,-1.46,.25],[-3.20,-1.47,.25],[-3.09,-1.45,.25],[-2.98,-1.46,.25],[-2.87,-1.47,.25],[-2.76,-1.45,.25],[-2.66,-1.46,.25],[-2.55,-1.47,.35],[-2.44,-1.45,.35],[-2.33,-1.46,.35],[-2.22,-1.47,.45],[-2.12,-1.45,.45],[-2.01,-1.46,.55],[-1.91,-1.47,.55],[-1.82,-1.45,.55],
[-3.98,-1.51,.25],[-3.90,-1.52,.25],[-3.79,-1.50,.25],[-3.69,-1.51,.25],[-3.58,-1.52,.25],[-3.47,-1.50,.25],[-3.37,-1.51,.25],[-3.26,-1.52,.25],[-3.15,-1.50,.25],[-3.04,-1.51,.25],[-2.93,-1.52,.25],[-2.82,-1.50,.25],[-2.71,-1.51,.25],[-2.60,-1.52,.35],[-2.49,-1.50,.35],[-2.38,-1.51,.35],[-2.27,-1.52,.45],[-2.17,-1.50,.45],[-2.06,-1.51,.45],[-1.96,-1.52,.55],[-1.87,-1.50,.55],[-1.78,-1.51,.75],
[-3.95,-1.56,.25],[-3.85,-1.57,.25],[-3.74,-1.55,.25],[-3.64,-1.56,.25],[-3.53,-1.57,.25],[-3.42,-1.55,.25],[-3.31,-1.56,.25],[-3.20,-1.57,.25],[-3.09,-1.55,.25],[-2.98,-1.56,.25],[-2.87,-1.57,.25],[-2.76,-1.55,.25],[-2.66,-1.56,.25],[-2.55,-1.57,.35],[-2.44,-1.55,.35],[-2.33,-1.56,.35],[-2.22,-1.57,.45],[-2.11,-1.55,.45],[-1.99,-1.56,.55],[-1.90,-1.55,.55],[-1.76,-1.55,.75],[-1.74,-1.58,.75],
[-3.98,-1.61,.25],[-3.90,-1.62,.25],[-3.79,-1.60,.25],[-3.69,-1.61,.25],[-3.58,-1.62,.25],[-3.47,-1.60,.25],[-3.37,-1.61,.25],[-3.26,-1.62,.25],[-3.15,-1.60,.25],[-3.04,-1.61,.25],[-2.93,-1.62,.25],[-2.82,-1.60,.25],[-2.71,-1.61,.25],[-2.60,-1.62,.35],[-2.49,-1.60,.35],[-2.38,-1.61,.35],[-2.29,-1.60,.35],
[-3.95,-1.66,.25],[-3.85,-1.67,.25],[-3.74,-1.65,.25],[-3.64,-1.66,.25],[-3.53,-1.67,.25],[-3.42,-1.65,.25],[-3.31,-1.66,.25],[-3.20,-1.67,.25],[-3.09,-1.65,.25],[-2.98,-1.66,.25],[-2.87,-1.67,.25],[-2.76,-1.65,.25],[-2.64,-1.66,.35],[-2.54,-1.65,.35],[-2.40,-1.64,.35],
[-3.98,-1.71,.25],[-3.90,-1.72,.25],[-3.79,-1.70,.25],[-3.69,-1.71,.25],[-3.58,-1.72,.25],[-3.47,-1.70,.25],[-3.37,-1.71,.25],[-3.26,-1.72,.25],[-3.15,-1.70,.25],[-3.04,-1.71,.25],[-2.93,-1.72,.25],[-2.82,-1.70,.25],[-2.74,-1.72,.25],
[-3.95,-1.76,.25],[-3.85,-1.77,.25],[-3.74,-1.75,.25],[-3.64,-1.76,.25],[-3.53,-1.77,.25],[-3.42,-1.75,.25],[-3.31,-1.76,.25],[-3.20,-1.77,.25],[-3.09,-1.75,.25],[-2.98,-1.76,.25],[-2.87,-1.77,.25],
[-3.98,-1.81,.25],[-3.90,-1.82,.25],[-3.79,-1.80,.25],[-3.69,-1.81,.25],[-3.58,-1.82,.25],[-3.47,-1.80,.25],[-3.37,-1.81,.25],[-3.26,-1.82,.25],[-3.15,-1.80,.25],[-3.04,-1.81,.25],[-2.95,-1.80,.25],
[-3.95,-1.86,.25],[-3.85,-1.87,.25],[-3.74,-1.85,.25],[-3.64,-1.86,.25],[-3.53,-1.87,.25],[-3.42,-1.85,.25],[-3.31,-1.86,.25],[-3.20,-1.87,.25],[-3.08,-1.85,.25],
[-3.98,-1.91,.25],[-3.90,-1.92,.25],[-3.79,-1.90,.25],[-3.69,-1.91,.25],[-3.58,-1.92,.25],[-3.47,-1.90,.25],[-3.37,-1.91,.25],[-3.26,-1.92,.25],
[-3.95,-1.96,.25],[-3.85,-1.97,.25],[-3.74,-1.95,.25],[-3.64,-1.96,.25],[-3.53,-1.97,.25],[-3.42,-1.95,.25],[-3.31,-1.96,.25],
[-3.98,-2.01,.25],[-3.90,-2.02,.25],[-3.79,-2.00,.25],[-3.69,-2.01,.25],[-3.58,-2.02,.25],[-3.47,-2.00,.25],[-3.36,-2.01,.25],
[-3.95,-2.06,.25],[-3.85,-2.07,.25],[-3.74,-2.05,.25],[-3.64,-2.06,.25],[-3.53,-2.07,.25],[-3.42,-2.06,.25],
[-3.98,-2.11,.25],[-3.90,-2.12,.25],[-3.79,-2.10,.25],[-3.69,-2.11,.25],[-3.58,-2.12,.25],[-3.49,-2.11,.25],
[-3.95,-2.16,.25],[-3.85,-2.17,.25],[-3.74,-2.15,.25],[-3.64,-2.16,.25],[-3.55,-2.15,.25],
[-3.98,-2.21,.25],[-3.90,-2.22,.25],[-3.79,-2.20,.25],[-3.69,-2.21,.25],
[-3.95,-2.26,.25],[-3.85,-2.27,.25],[-3.75,-2.26,.25],
[-3.98,-2.31,.25],[-3.88,-2.32,.25],
[-3.96,-2.36,.25],[-3.92,-2.38,.25],
[-3.98,-2.43,.25],[-3.95,-2.41,.25],
];

const BG = "#fdfbfa";
const INK = "#111111";
const GRIDLINE = "#b8afa6";
const SANS = "'DejaVu Sans', sans-serif";
const SERIF = "'Liberation Serif', 'DejaVu Serif', serif";

const fmt = (v: number, d: number) => (v < 0 ? "\u2212" : "") + Math.abs(v).toFixed(d);

const richStyles = {
  a: { fontFamily: SERIF, fontSize: 39, lineHeight: 56, fill: INK },
  i: { fontFamily: SERIF, fontSize: 39, lineHeight: 56, fontStyle: "italic", fill: INK },
  s: { fontFamily: SERIF, fontSize: 27, verticalAlign: "top", padding: [28, 0, 0, 0], fill: INK },
};
const richCompact = {
  a: { fontFamily: SERIF, fontSize: 39, lineHeight: 46, fill: INK },
  i: { fontFamily: SERIF, fontSize: 39, lineHeight: 46, fontStyle: "italic", fill: INK },
  s: { fontFamily: SERIF, fontSize: 27, verticalAlign: "top", padding: [20, 0, 0, 0], fill: INK },
};
const richBar = {
  a: { fontFamily: SERIF, fontSize: 39, lineHeight: 40, fill: INK },
  i: { fontFamily: SERIF, fontSize: 39, lineHeight: 40, fontStyle: "italic", fill: INK },
};

export default function App() {
  const ref = useRef<HTMLDivElement>(null);
  useEffect(() => {
    if (!ref.current) return;
    const chart = echarts.init(ref.current, null, { renderer: "svg" });

    const panels = [
      { data: pore2, left: 159.5, top: 125, width: 294.5, height: 233.3, xMin: -4.112, xMax: -1.604, yMax: -0.926, xTicks: xTicksLeft, showX: false, showY: true },
      { data: pore5, left: 483.3, top: 125, width: 294.4, height: 233.3, xMin: -4.123, xMax: -1.613, yMax: -0.926, xTicks: xTicksLeft, showX: false, showY: false },
      { data: pore15, left: 159.5, top: 427.3, width: 294.5, height: 231, xMin: -4.112, xMax: -1.604, yMax: -0.932, xTicks: xTicksLeft, showX: true, showY: true },
      { data: pore20, left: 483.3, top: 427.3, width: 293.4, height: 231, xMin: -4.106, xMax: -1.0, yMax: -0.932, xTicks: xTicksRight, showX: true, showY: false },
    ];

    const grid: any[] = panels.map((p) => ({
      left: p.left, top: p.top, width: p.width, height: p.height,
      show: true, borderColor: INK, borderWidth: 1.9, backgroundColor: "transparent",
      containLabel: false, outerBoundsMode: "none",
    }));
    grid.push({ left: 802, top: 145, width: 16, height: 497, show: true, borderColor: INK, borderWidth: 1.6, backgroundColor: "transparent", containLabel: false, outerBoundsMode: "none" });

    const xAxis: any[] = panels.map((p, i) => ({
      type: "value", gridIndex: i, min: p.xMin, max: p.xMax, splitNumber: 3,
      axisLine: { show: true, onZero: false, lineStyle: { color: INK, width: 1.9 } },
      axisTick: { show: true, length: 8, customValues: p.xTicks, lineStyle: { color: INK, width: 1.9 } },
      axisLabel: { show: p.showX, customValues: p.xTicks, margin: 15, fontFamily: SANS, fontSize: 26, color: INK, formatter: (v: number) => fmt(v, 0) },
      splitLine: { show: true, showMinLine: false, showMaxLine: false, lineStyle: { color: GRIDLINE, width: 2 } },
    }));
    xAxis.push({ type: "category", gridIndex: 4, data: ["f"], show: false, boundaryGap: true });

    const yAxis: any[] = panels.map((p, i) => ({
      type: "value", gridIndex: i, min: -2.5, max: p.yMax, interval: 0.5,
      axisLine: { show: true, onZero: false, lineStyle: { color: INK, width: 1.9 } },
      axisTick: { show: true, length: 8, customValues: yTicks, lineStyle: { color: INK, width: 1.9 } },
      axisLabel: { show: p.showY, customValues: yTicks, margin: 21, fontFamily: SANS, fontSize: 26, color: INK, formatter: (v: number) => fmt(v, 1) },
      splitLine: { show: true, showMinLine: false, showMaxLine: false, lineStyle: { color: GRIDLINE, width: 2 } },
    }));
    yAxis.push({
      type: "value", gridIndex: 4, min: 0, max: 1, interval: 0.2, position: "right",
      axisLine: { show: false },
      axisTick: { show: true, length: 8, customValues: cbarTicks, lineStyle: { color: INK, width: 1.6 } },
      axisLabel: { show: true, customValues: cbarTicks, margin: 18, fontFamily: SANS, fontSize: 26, color: INK, formatter: (v: number) => v.toFixed(1) },
      splitLine: { show: false },
    });

    const series: any[] = panels.map((p, i) => ({
      type: "scatter", name: "\u03d5pore = " + poreLabels[i], xAxisIndex: i, yAxisIndex: i,
      data: p.data, symbolSize: 8.5, itemStyle: { opacity: 1 }, silent: true,
    }));
    fColors.forEach((c, k) => {
      series.push({
        type: "bar", xAxisIndex: 4, yAxisIndex: 4, stack: "cbar",
        data: [+(fBins[k + 1] - fBins[k]).toFixed(3)], barWidth: "100%",
        itemStyle: { color: c }, silent: true,
      });
    });

    const pieces = fColors.map((c, k) => (k === fColors.length - 1
      ? { gte: fBins[k], lte: fBins[k + 1], color: c }
      : { gte: fBins[k], lt: fBins[k + 1], color: c }));

    const titlePos = [
      { x: 296, y: 96 }, { x: 624, y: 96 }, { x: 296, y: 398 }, { x: 617, y: 398 },
    ];

    const elements: any[] = [
      {
        type: "text", x: 466, y: 40, z: 100,
        style: { text: "{a|(c) DEM \u2013 Berryman-}{i|f}", align: "center", verticalAlign: "middle", fill: INK, rich: richStyles },
      },
      { type: "rect", z: 90, shape: { x: 517, y: 398, width: 220, height: 31 }, style: { fill: BG } },
    ];
    titlePos.forEach((t, i) => {
      elements.push({
        type: "text", x: t.x, y: t.y, z: 100,
        style: { text: "{a|\u03d5}{s|pore}{a| = " + poreLabels[i] + "}", align: "center", verticalAlign: "middle", fill: INK, rich: richStyles },
      });
    });
    [228, 539].forEach((cy) => {
      elements.push({
        type: "text", x: 36, y: cy, rotation: Math.PI / 2, z: 100,
        style: { text: "{a|log}{s|10}{i|\u03b1}{s|crack}", align: "center", verticalAlign: "middle", fill: INK, rich: richStyles },
      });
    });
    [307, 622].forEach((cx) => {
      elements.push({
        type: "text", x: cx, y: 737, z: 100,
        style: { text: "{a|log}{s|10}{a|\u03d5}{s|crack}", align: "center", verticalAlign: "middle", fill: INK, rich: richCompact },
      });
    });
    elements.push({
      type: "text", x: 910, y: 385, rotation: Math.PI / 2, z: 100,
      style: { text: "{i|f}{a|-parameter}", align: "center", verticalAlign: "middle", fill: INK, rich: richBar },
    });

    chart.setOption({
      animation: false,
      backgroundColor: BG,
      grid, xAxis, yAxis, series,
      visualMap: {
        type: "piecewise", show: false, dimension: 2, seriesIndex: [0, 1, 2, 3], pieces,
      },
      graphic: { elements },
    });
    return () => chart.dispose();
  }, []);
  return <div ref={ref} style={{ position: "fixed", left: 0, top: 0, width: 932, height: 765, background: BG }} />;
}
